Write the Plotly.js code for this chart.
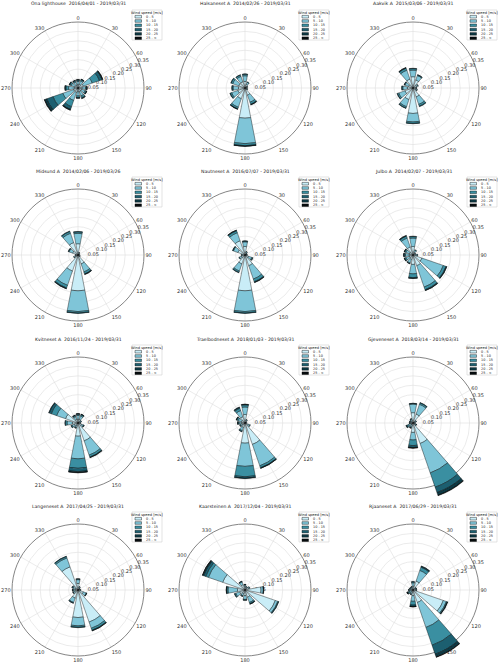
<!DOCTYPE html>
<html>
<head>
<meta charset="utf-8">
<script src="https://cdn.plot.ly/plotly-3.0.1.min.js"></script>
<style>html,body{margin:0;padding:0;background:#fff}#chart{width:500px;height:666px}</style>
</head>
<body>
<div id="chart"></div>
<script>
// wind roses, 12 sectors, frequency stacked by speed bin

var dirs = [0, 30, 60, 90, 120, 150, 180, 210, 240, 270, 300, 330];
var speedBins = ['0 - 5', '5 - 10', '10 - 15', '15 - 20', '20 - 25', '25 - \u221e'];
var binColors = ['#c9edf7', '#7fc5d8', '#3a8fa1', '#1c5f70', '#0d3944', '#050b0d'];
var angleTicks = [0, 30, 60, 90, 120, 150, 180, 210, 240, 270, 300, 330];
var ringTicks = [0.05, 0.10, 0.15, 0.20, 0.25, 0.30, 0.35];

var stations = ['Ona lighthouse', 'Halsaneset A', 'Aakvik A', 'Midsund A', 'Nautneset A', 'Julbo A',
  'Kvitneset A', 'Traelbodneset A', 'Gjeveneset A', 'Langeneset A', 'Kaarsteinen A', 'Rjaaneset A'];
var periods = ['2016/04/01 - 2019/03/31', '2014/02/26 - 2019/03/31', '2015/03/06 - 2019/03/31',
  '2014/02/06 - 2019/03/26', '2016/07/07 - 2019/03/31', '2014/02/07 - 2019/03/31',
  '2016/11/24 - 2019/03/31', '2018/01/03 - 2019/03/31', '2018/03/14 - 2019/03/31',
  '2017/04/25 - 2019/03/31', '2017/12/04 - 2019/03/31', '2017/06/29 - 2019/03/31'];

// rows = speed bins, columns = dirs
var ona = [
  [0.018,0.020,0.030,0.022,0.020,0.020,0.020,0.025,0.025,0.020,0.018,0.016],
  [0.017,0.020,0.050,0.018,0.020,0.025,0.022,0.045,0.060,0.030,0.020,0.018],
  [0.007,0.007,0.040,0.006,0.007,0.010,0.009,0.035,0.055,0.014,0.008,0.007],
  [0.002,0.002,0.015,0.002,0.002,0.004,0.003,0.015,0.035,0.005,0.003,0.002],
  [0.001,0.001,0.004,0.001,0.001,0.001,0.001,0.004,0.012,0.001,0.001,0.001],
  [0,0,0.001,0,0,0,0,0.001,0.003,0,0,0]
];
var halsaneset = [
  [0.035,0.020,0.010,0.008,0.010,0.040,0.160,0.060,0.040,0.035,0.035,0.035],
  [0.030,0.012,0.004,0.003,0.004,0.040,0.135,0.048,0.035,0.028,0.034,0.030],
  [0.008,0.003,0.001,0.001,0.001,0.011,0.011,0.009,0.008,0.006,0.009,0.008],
  [0.002,0,0,0,0,0.003,0.003,0.002,0.002,0.001,0.002,0.002],
  [0,0,0,0,0,0.001,0.001,0.001,0,0,0,0],
  [0,0,0,0,0,0,0,0,0,0,0,0]
];
var aakvik = [
  [0.060,0.045,0.020,0.014,0.016,0.050,0.135,0.065,0.045,0.030,0.025,0.050],
  [0.035,0.025,0.008,0.005,0.007,0.042,0.045,0.040,0.035,0.024,0.020,0.050],
  [0.008,0.004,0.002,0.001,0.002,0.010,0.008,0.008,0.008,0.005,0.004,0.011],
  [0.002,0.001,0,0,0,0.003,0.002,0.002,0.002,0.001,0.001,0.003],
  [0,0,0,0,0,0,0,0,0,0,0,0.001],
  [0,0,0,0,0,0,0,0,0,0,0,0]
];
var midsund = [
  [0.060,0.010,0.007,0.006,0.008,0.050,0.190,0.090,0.015,0.010,0.030,0.070],
  [0.055,0.004,0.003,0.002,0.004,0.045,0.110,0.080,0.008,0.004,0.020,0.052],
  [0.008,0.001,0,0,0.001,0.011,0.008,0.015,0.002,0.001,0.004,0.010],
  [0.002,0,0,0,0,0.003,0.002,0.004,0,0,0.001,0.003],
  [0,0,0,0,0,0.001,0,0.001,0,0,0,0],
  [0,0,0,0,0,0,0,0,0,0,0,0]
];
var nautneset = [
  [0.045,0.013,0.008,0.008,0.020,0.060,0.190,0.050,0.020,0.013,0.040,0.080],
  [0.025,0.006,0.003,0.003,0.018,0.075,0.110,0.040,0.012,0.006,0.025,0.045],
  [0.004,0.001,0.001,0.001,0.005,0.015,0.008,0.008,0.003,0.001,0.004,0.011],
  [0.001,0,0,0,0.002,0.004,0.002,0.002,0,0,0.001,0.003],
  [0,0,0,0,0,0.001,0,0,0,0,0,0.001],
  [0,0,0,0,0,0,0,0,0,0,0,0]
];
var julbo = [
  [0.045,0.015,0.010,0.012,0.050,0.060,0.050,0.025,0.020,0.020,0.020,0.045],
  [0.045,0.012,0.004,0.010,0.120,0.120,0.050,0.020,0.020,0.020,0.020,0.050],
  [0.008,0.003,0.001,0.003,0.015,0.015,0.020,0.004,0.007,0.007,0.007,0.011],
  [0.002,0,0,0,0.004,0.004,0.004,0.001,0.002,0.002,0.002,0.003],
  [0,0,0,0,0.001,0.001,0.001,0,0.001,0.001,0.001,0.001],
  [0,0,0,0,0,0,0,0,0,0,0,0]
];
var kvitneset = [
  [0.020,0.020,0.012,0.009,0.020,0.100,0.070,0.015,0.020,0.030,0.070,0.020],
  [0.020,0.020,0.006,0.004,0.010,0.080,0.120,0.010,0.013,0.028,0.050,0.016],
  [0.007,0.007,0.002,0.002,0.004,0.011,0.050,0.004,0.005,0.009,0.030,0.006],
  [0.002,0.002,0,0,0.001,0.003,0.018,0.001,0.002,0.003,0.012,0.002],
  [0.001,0.001,0,0,0,0.001,0.005,0,0,0,0.003,0.001],
  [0,0,0,0,0,0,0.002,0,0,0,0,0]
];
var traelbodneset = [
  [0.045,0.012,0.007,0.007,0.018,0.120,0.107,0.025,0.015,0.020,0.020,0.035],
  [0.040,0.006,0.003,0.003,0.010,0.120,0.123,0.018,0.010,0.012,0.018,0.035],
  [0.011,0.002,0,0,0.002,0.011,0.055,0.005,0.004,0.005,0.008,0.013],
  [0.003,0,0,0,0,0.003,0.008,0.002,0.001,0.002,0.003,0.005],
  [0.001,0,0,0,0,0.001,0.002,0,0,0.001,0.001,0.002],
  [0,0,0,0,0,0,0,0,0,0,0,0]
];
var gjeveneset = [
  [0.055,0.050,0.012,0.008,0.012,0.115,0.050,0.012,0.012,0.010,0.010,0.013],
  [0.045,0.055,0.006,0.003,0.006,0.165,0.040,0.010,0.013,0.006,0.006,0.008],
  [0.004,0.008,0.002,0.001,0.002,0.080,0.030,0.005,0.009,0.003,0.003,0.003],
  [0.001,0.002,0,0,0.001,0.030,0.010,0.002,0.004,0.001,0.001,0.001],
  [0,0,0,0,0,0.015,0.003,0.001,0.002,0,0,0],
  [0,0,0,0,0,0.003,0.001,0,0,0,0,0]
];
var langeneset = [
  [0.035,0.013,0.008,0.010,0.030,0.180,0.146,0.045,0.018,0.015,0.015,0.130],
  [0.020,0.005,0.003,0.004,0.016,0.035,0.044,0.025,0.009,0.010,0.012,0.050],
  [0.004,0.002,0.001,0.001,0.003,0.011,0.008,0.004,0.002,0.004,0.006,0.008],
  [0.001,0,0,0,0.001,0.003,0.002,0.001,0.001,0.001,0.002,0.002],
  [0,0,0,0,0,0.001,0,0,0,0,0,0],
  [0,0,0,0,0,0,0,0,0,0,0,0]
];
var kaarsteinen = [
  [0.018,0.012,0.020,0.085,0.170,0.040,0.030,0.020,0.030,0.040,0.125,0.030],
  [0.009,0.006,0.006,0.012,0.014,0.030,0.020,0.012,0.022,0.050,0.080,0.015],
  [0.002,0.002,0.002,0.002,0.004,0.007,0.004,0.004,0.006,0.007,0.015,0.004],
  [0.001,0,0,0.001,0.002,0.002,0.001,0.001,0.002,0.002,0.012,0.001],
  [0,0,0,0,0,0.001,0,0,0,0.001,0.006,0],
  [0,0,0,0,0,0,0,0,0,0,0.002,0]
];
var rjaaneset = [
  [0.020,0.050,0.012,0.015,0.170,0.070,0.030,0.012,0.010,0.012,0.010,0.010],
  [0.018,0.060,0.005,0.004,0.017,0.140,0.030,0.010,0.010,0.008,0.006,0.006],
  [0.005,0.018,0.002,0.001,0.005,0.100,0.020,0.004,0.008,0.003,0.003,0.003],
  [0.002,0.005,0.001,0,0.002,0.050,0.007,0.001,0.004,0.001,0.001,0.001],
  [0,0.002,0,0,0.001,0.015,0.002,0,0.002,0,0,0],
  [0,0,0,0,0,0.003,0.001,0,0.001,0,0,0]
];

var roses = [ona, halsaneset, aakvik, midsund, nautneset, julbo,
  kvitneset, traelbodneset, gjeveneset, langeneset, kaarsteinen, rjaaneset];

var W = 500, H = 666;
var R = 66, RMAX = 0.35;
var colX = [78, 245, 413];
var rowY = [88, 255, 423, 590];

function dom(cx, cy, r) {
  return {x: [(cx - r) / W, (cx + r) / W], y: [(H - cy - r) / H, (H - cy + r) / H]};
}
function px(x) { return x / W; }
function py(y) { return 1 - y / H; }

var data = [];
var layout = {
  width: W, height: H,
  margin: {l: 0, r: 0, t: 0, b: 0},
  paper_bgcolor: '#fff',
  showlegend: false,
  font: {family: 'DejaVu Sans', color: '#222'},
  annotations: [],
  shapes: []
};

roses.forEach(function(rose, i) {
  var cx = colX[i % 3], cy = rowY[Math.floor(i / 3)];
  var gridId = i === 0 ? 'polar' : 'polar' + (2 * i + 1);
  var barId = 'polar' + (2 * i + 2);
  // bars get a bigger invisible polar so long bars can run past the rim
  var r2 = Math.min(R * 0.42 / RMAX, cx, W - cx, cy, H - cy) - 0.5;

  layout[gridId] = {
    domain: dom(cx, cy, R),
    bgcolor: 'rgba(0,0,0,0)',
    angularaxis: {
      rotation: 90, direction: 'clockwise',
      tickmode: 'array', tickvals: angleTicks, ticktext: angleTicks.map(String),
      ticks: '', showline: true, linecolor: '#666', linewidth: 0.8,
      gridcolor: '#dedede', gridwidth: 0.6,
      tickfont: {size: 5, color: '#333'}
    },
    radialaxis: {
      range: [0, RMAX], angle: 28, tickangle: 28,
      tickmode: 'array', tickvals: ringTicks, ticktext: ringTicks.map(function(v) { return v.toFixed(2); }),
      ticks: '', showline: false,
      gridcolor: '#dedede', gridwidth: 0.6,
      tickfont: {size: 5, color: '#333'}
    }
  };
  layout[barId] = {
    domain: dom(cx, cy, r2),
    bgcolor: 'rgba(0,0,0,0)',
    barmode: 'stack',
    angularaxis: {rotation: 90, direction: 'clockwise', showgrid: false, showline: false,
      showticklabels: false, ticks: ''},
    radialaxis: {range: [0, RMAX * r2 / R], visible: false, showgrid: false, showline: false,
      showticklabels: false, ticks: ''}
  };

  data.push({type: 'scatterpolar', subplot: gridId, r: [0], theta: [0], mode: 'markers',
    marker: {opacity: 0}, hoverinfo: 'skip'});
  rose.forEach(function(vals, b) {
    data.push({
      type: 'barpolar', subplot: barId,
      r: vals, theta: dirs, width: 22,
      name: speedBins[b],
      marker: {color: binColors[b], line: {color: '#000', width: 0.4}}
    });
  });

  // title
  layout.annotations.push({
    xref: 'paper', yref: 'paper', x: px(cx), y: py(cy - 84),
    text: stations[i] + '\u00a0\u00a0' + periods[i], showarrow: false,
    xanchor: 'center', yanchor: 'middle', font: {size: 4.6, color: '#222'}
  });

  // small legend box
  layout.shapes.push({type: 'rect', xref: 'paper', yref: 'paper',
    x0: px(cx + 54), x1: px(cx + 84), y0: py(cy - 78), y1: py(cy - 48),
    line: {color: '#d0d0d0', width: 0.6}, fillcolor: '#fff'});
  layout.annotations.push({
    xref: 'paper', yref: 'paper', x: px(cx + 69), y: py(cy - 75.3),
    text: 'Wind speed [m/s]', showarrow: false, xanchor: 'center', yanchor: 'middle',
    font: {size: 3.6, color: '#222'}
  });
  speedBins.forEach(function(lab, b) {
    var yy = cy - 71.3 + 4.3 * b;
    layout.shapes.push({type: 'rect', xref: 'paper', yref: 'paper',
      x0: px(cx + 57), x1: px(cx + 63.5), y0: py(yy + 1.3), y1: py(yy - 1.3),
      line: {color: '#000', width: 0.4}, fillcolor: binColors[b]});
    layout.annotations.push({
      xref: 'paper', yref: 'paper', x: px(cx + 65.5), y: py(yy),
      text: lab, showarrow: false, xanchor: 'left', yanchor: 'middle',
      font: {size: 3.4, color: '#222'}
    });
  });
});

Plotly.newPlot('chart', data, layout, {staticPlot: true});
</script>
</body>
</html>
